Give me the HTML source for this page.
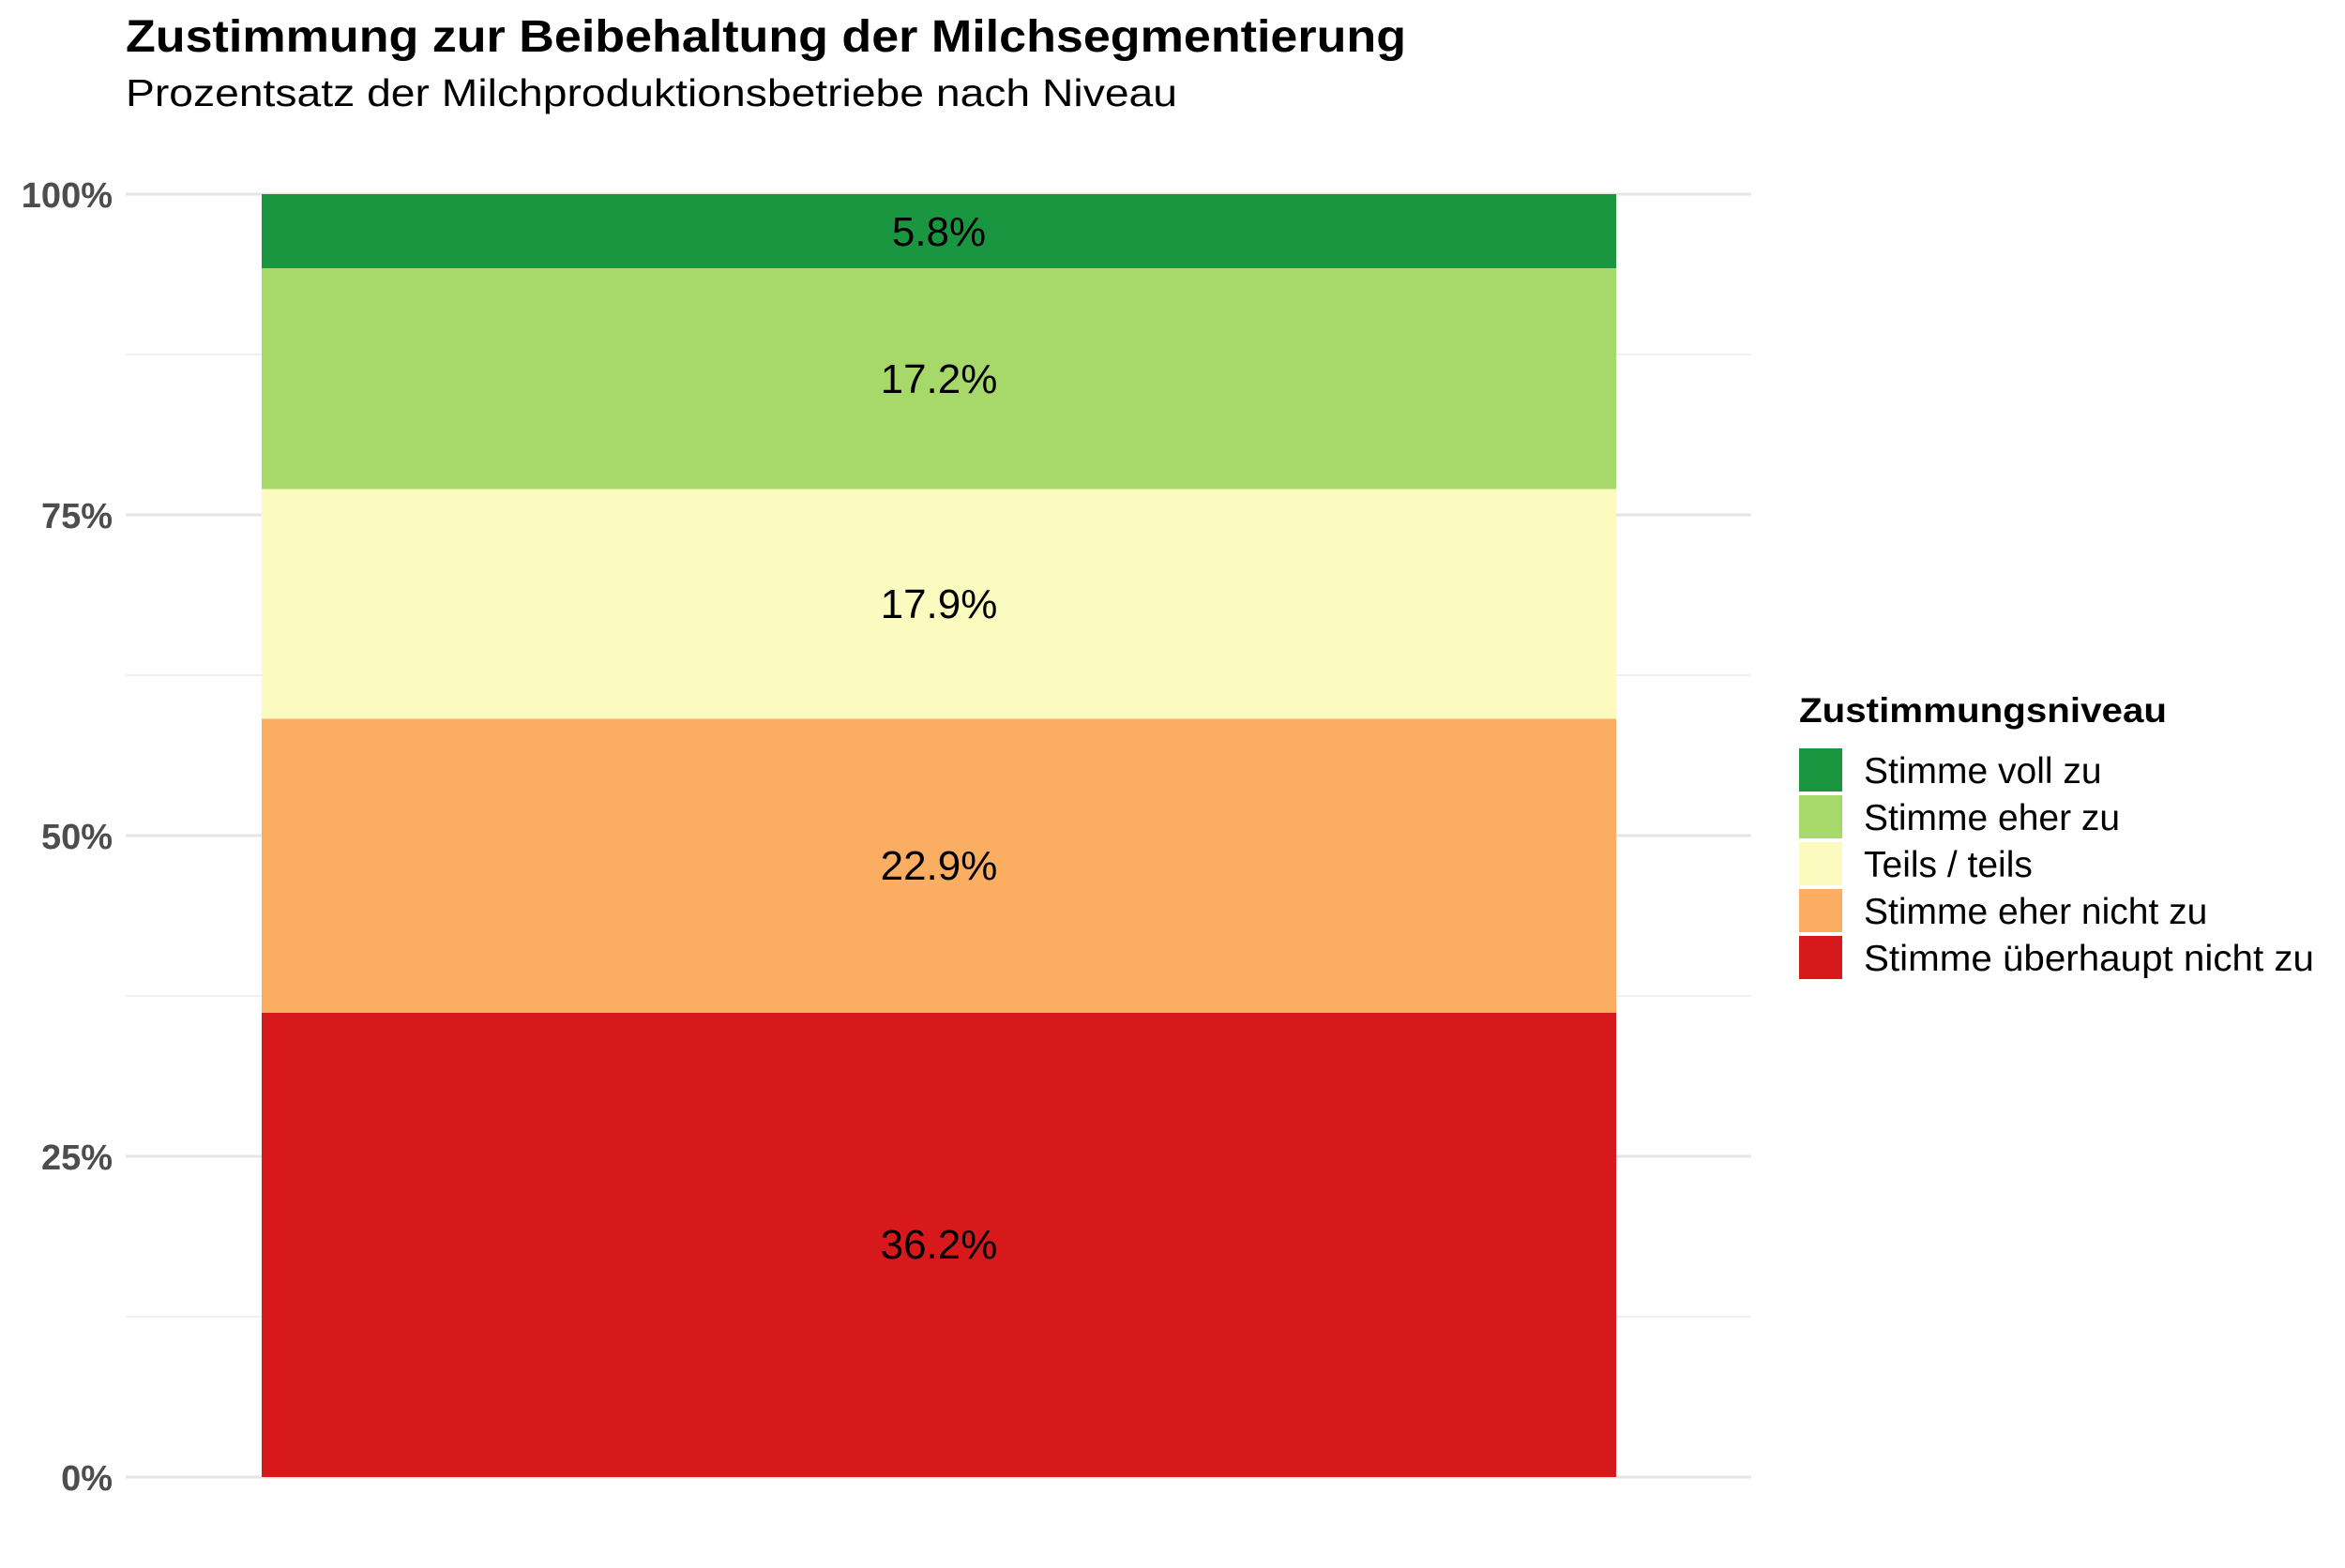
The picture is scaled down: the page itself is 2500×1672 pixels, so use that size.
<!DOCTYPE html>
<html><head><meta charset="utf-8"><style>html,body{margin:0;padding:0;background:#fff}</style></head><body>
<svg width="2500" height="1667" viewBox="0 0 2500 1667" xmlns="http://www.w3.org/2000/svg" font-family="Liberation Sans, Arial, sans-serif">
<rect width="2500" height="1667" fill="#fff"/>
<text x="134" y="55" font-size="48" font-weight="bold" fill="#000" textLength="1365" lengthAdjust="spacingAndGlyphs">Zustimmung zur Beibehaltung der Milchsegmentierung</text>
<text x="134" y="113" font-size="41" fill="#000" textLength="1121" lengthAdjust="spacingAndGlyphs">Prozentsatz der Milchproduktionsbetriebe nach Niveau</text>
<g stroke="#ebebeb" stroke-width="1.5">
<line x1="134" x2="1867" y1="378" y2="378"/><line x1="134" x2="1867" y1="720" y2="720"/>
<line x1="134" x2="1867" y1="1062" y2="1062"/><line x1="134" x2="1867" y1="1404" y2="1404"/>
</g>
<g stroke="#e5e5e5" stroke-width="3">
<line x1="134" x2="1867" y1="207" y2="207"/><line x1="134" x2="1867" y1="549" y2="549"/>
<line x1="134" x2="1867" y1="891" y2="891"/><line x1="134" x2="1867" y1="1233" y2="1233"/>
<line x1="134" x2="1867" y1="1575" y2="1575"/>
</g>
<g font-size="38" font-weight="bold" fill="#4d4d4d" text-anchor="end">
<text x="120" y="221">100%</text><text x="120" y="563">75%</text><text x="120" y="905">50%</text><text x="120" y="1247">25%</text><text x="120" y="1589">0%</text>
</g>
<rect x="279" y="207" width="1444" height="79.5" fill="#1a9641"/>
<rect x="279" y="286" width="1444" height="236" fill="#a6d96a"/>
<rect x="279" y="521.5" width="1444" height="245.5" fill="#fbfbbf"/>
<rect x="279" y="766.5" width="1444" height="313.5" fill="#fbae61"/>
<rect x="279" y="1080" width="1444" height="495" fill="#d7191c"/>
<g font-size="44" fill="#000" text-anchor="middle">
<text x="1001" y="262">5.8%</text><text x="1001" y="419">17.2%</text><text x="1001" y="659">17.9%</text><text x="1001" y="938">22.9%</text><text x="1001" y="1342">36.2%</text>
</g>
<text x="1918" y="770" font-size="37" font-weight="bold" fill="#000" textLength="392" lengthAdjust="spacingAndGlyphs">Zustimmungsniveau</text>
<rect x="1918" y="798" width="46" height="46" fill="#1a9641"/>
<rect x="1918" y="848" width="46" height="46" fill="#a6d96a"/>
<rect x="1918" y="898" width="46" height="46" fill="#fbfbbf"/>
<rect x="1918" y="948" width="46" height="46" fill="#fbae61"/>
<rect x="1918" y="998" width="46" height="46" fill="#d7191c"/>
<g font-size="39" fill="#000">
<text x="1987" y="835">Stimme voll zu</text>
<text x="1987" y="885">Stimme eher zu</text>
<text x="1987" y="935">Teils / teils</text>
<text x="1987" y="985">Stimme eher nicht zu</text>
<text x="1987" y="1035" textLength="480" lengthAdjust="spacingAndGlyphs">Stimme überhaupt nicht zu</text>
</g>
</svg>
</body></html>
